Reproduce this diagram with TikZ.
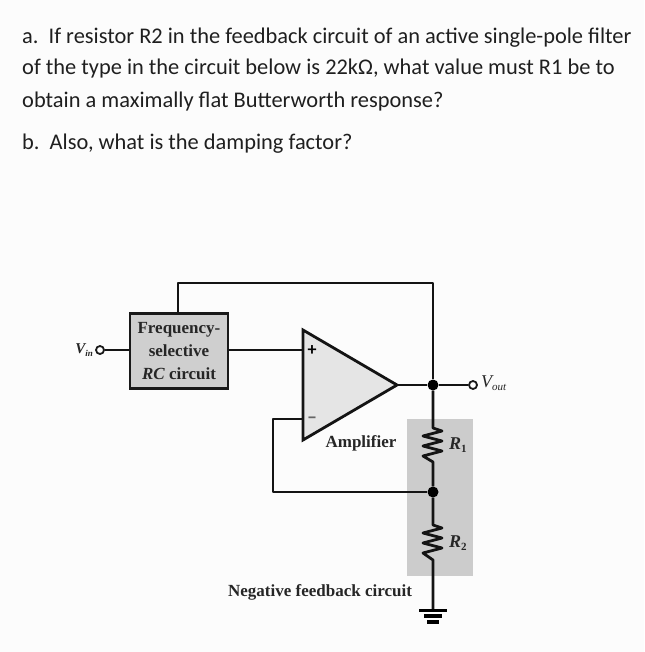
\documentclass[tikz,border=0pt]{standalone}
\usepackage{fontspec}
\setmainfont{Carlito}
\newfontfamily\labelfont{Liberation Serif}
\tikzset{
  wire/.style={line width=2.3pt,black!92,line join=round},
  resist/.style={line width=2.8pt,black!92,line join=round},
  question/.style={anchor=base west,inner sep=0pt,font=\fontsize{22.4}{26}\selectfont,text=black!88},
  labeltext/.style={inner sep=0pt,font=\labelfont\bfseries\fontsize{17}{20}\selectfont,text=black!85},
  symboltext/.style={inner sep=0pt,font=\labelfont\bfseries\itshape\fontsize{18}{20}\selectfont,text=black!85},
  dotnode/.style={circle,fill=black,inner sep=0pt,minimum size=11pt},
  portnode/.style={circle,draw=black!90,line width=1.8pt,fill=white,inner sep=0pt,minimum size=8pt},
  filterbox/.style={draw=black!90,line width=2.8pt,fill=black!19,minimum width=98pt,minimum height=75pt,inner sep=0pt,align=center,font=\labelfont\bfseries\fontsize{17}{23}\selectfont,text=black!85},
  groundbar/.style={line width=3pt,black}
}
\begin{document}
\begin{tikzpicture}[x=1pt,y=-1pt]
\useasboundingbox[fill=black!1] (0,0) rectangle (644,652);
% question text
\node[question] (q1) at (22,44) {a.\ \ If resistor R2 in the feedback circuit of an active single-pole filter};
\node[question] (q2) at (22,75) {of the type in the circuit below is 22kΩ, what value must R1 be to};
\node[question] (q3) at (22,108) {obtain a maximally flat Butterworth response?};
\node[question] (q4) at (22,150) {b.\ \ Also, what is the damping factor?};
% gray feedback band
\fill[black!20] (407,419) rectangle (473,576);
% block
\node[filterbox] (box) at (179,351) {Frequency-\\selective\\\textit{RC} circuit};
% amplifier
\coordinate (tl) at (303,330);
\coordinate (bl) at (303,440);
\coordinate (tip) at (397,385);
\filldraw[fill=black!10,draw=black!92,line width=2.8pt,line join=miter] (tl) -- (tip) -- (bl) -- cycle;
\coordinate (plus) at (303,350);
\coordinate (minus) at (303,419);
\node[inner sep=0pt,font=\bfseries\fontsize{18}{18}\selectfont] (plussign) at (312,351) {+};
\node[inner sep=0pt,font=\bfseries\fontsize{20}{20}\selectfont,text=black!60] (minussign) at (312,420) {–};
% nodes
\node[portnode] (vin) at (100,350) {};
\node[portnode] (vout) at (473,385) {};
\node[dotnode] (n1) at (433,385) {};
\node[dotnode] (n2) at (433,492) {};
\coordinate (topL) at (178,283);
\coordinate (topR) at (433,283);
\coordinate (fbA) at (273,419);
\coordinate (fbB) at (273,492);
\coordinate (gnd) at (433,609);
% wires
\draw[wire] (vin) -- (box.west |- vin);
\draw[wire] (box.east |- plus) -- (plus);
\draw[wire] (box.north -| topL) -- (topL) -- (topR) -- (n1);
\draw[wire] (tip) -- (n1) -- (vout);
\draw[wire] (minus) -- (fbA) -- (fbB) -- (n2);
% resistors
\draw[resist] (n1) -- (433,428) -- (442,431) -- (423,436) -- (442,441) -- (423,446) -- (442,451) -- (423,456) -- (433,462) -- (n2);
\draw[resist] (n2) -- (433,525) -- (442,528) -- (423,533) -- (442,538) -- (423,543) -- (442,548) -- (423,553) -- (433,560) -- (gnd);
% ground
\draw[groundbar] (419,610) -- (447,610);
\draw[groundbar,line width=3.6pt] (424,616) -- (442,616);
\draw[groundbar,line width=3.6pt] (427,622) -- (439,622);
% labels
\node[labeltext] (amp) at (361,443) {Amplifier};
\node[labeltext] (neg) at (320,592) {Negative feedback circuit};
\node[symboltext,anchor=base west] (r1) at (449,449) {R\raisebox{-3pt}{\fontsize{11}{11}\selectfont\upshape 1}};
\node[symboltext,anchor=base west] (r2) at (449,547) {R\raisebox{-3pt}{\fontsize{11}{11}\selectfont\upshape 2}};
\node[symboltext,font=\labelfont\itshape\fontsize{18}{20}\selectfont,anchor=base west] (voutl) at (481,387) {V\raisebox{-3pt}{\fontsize{11}{11}\selectfont out}};
\node[symboltext,font=\labelfont\bfseries\itshape\fontsize{15}{16}\selectfont,anchor=base east] (vinl) at (93,353) {V\raisebox{-3pt}{\fontsize{9}{9}\selectfont in}};
\end{tikzpicture}
\end{document}
